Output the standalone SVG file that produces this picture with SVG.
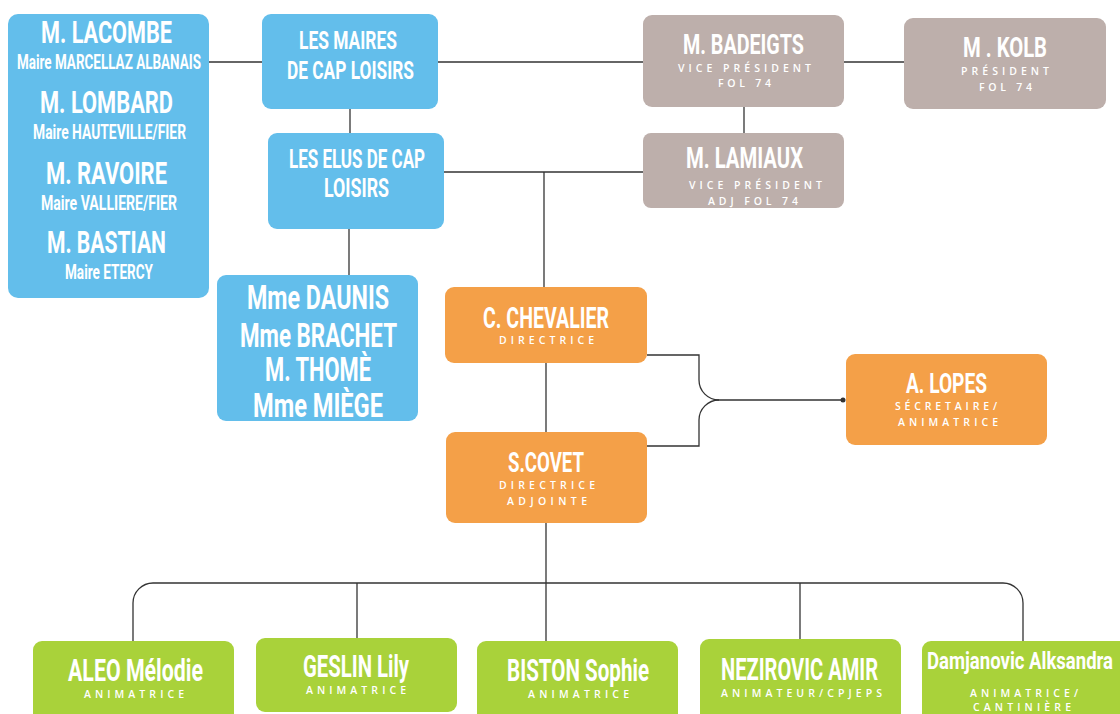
<svg xmlns="http://www.w3.org/2000/svg" width="1120" height="714" viewBox="0 0 1120 714">
<style>
.bl{fill:#63BEEB}
.gr{fill:#BDAFAB}
.or{fill:#F4A048}
.gn{fill:#A9D23A}
.t{font-family:Roboto,"Liberation Sans",sans-serif;font-weight:700;fill:#fff}
.s{font-family:"Open Sans","Liberation Sans",sans-serif;font-weight:600;fill:#fff;font-size:10.5px}
.c{fill:none;stroke:#333;stroke-width:1.3}
</style>
<rect width="1120" height="714" fill="#fff"/>
<g id="connectors">
<path class="c" d="M209,62H262"/>
<path class="c" d="M438,62H643"/>
<path class="c" d="M844,62H904"/>
<path class="c" d="M350,109V133"/>
<path class="c" d="M349,229V275"/>
<path class="c" d="M444,172H643"/>
<path class="c" d="M744,107V133"/>
<path class="c" d="M544,172V287"/>
<path class="c" d="M546,363V432"/>
<path class="c" d="M647,355H699V380A20,20 0 0 0 719,400H843"/>
<path class="c" d="M647,446H699V420A20,20 0 0 1 719,400"/>
<circle cx="843" cy="400" r="2.5" fill="#333"/>
<path class="c" d="M546,523V641"/>
<path class="c" d="M133,641V603A20,20 0 0 1 153,583H1003A20,20 0 0 1 1023,603V641"/>
<path class="c" d="M357,583V638"/>
<path class="c" d="M800,583V639"/>
</g>
<g id="maires-list">
<rect class="bl" x="8" y="14" width="201" height="284" rx="10"/>
<text class="t" x="41" y="43" font-size="32" textLength="131" lengthAdjust="spacingAndGlyphs">M. LACOMBE</text>
<text class="t" x="17" y="68.5" font-size="20.5" textLength="184" lengthAdjust="spacingAndGlyphs">Maire MARCELLAZ ALBANAIS</text>
<text class="t" x="40" y="113" font-size="31" textLength="133" lengthAdjust="spacingAndGlyphs">M. LOMBARD</text>
<text class="t" x="33" y="139" font-size="20.5" textLength="153" lengthAdjust="spacingAndGlyphs">Maire HAUTEVILLE/FIER</text>
<text class="t" x="46" y="183.5" font-size="31" textLength="121" lengthAdjust="spacingAndGlyphs">M. RAVOIRE</text>
<text class="t" x="41" y="209.5" font-size="20.5" textLength="136" lengthAdjust="spacingAndGlyphs">Maire VALLIERE/FIER</text>
<text class="t" x="47" y="253" font-size="31" textLength="119" lengthAdjust="spacingAndGlyphs">M. BASTIAN</text>
<text class="t" x="65" y="279" font-size="20.5" textLength="88" lengthAdjust="spacingAndGlyphs">Maire ETERCY</text>
</g>
<g id="les-maires">
<rect class="bl" x="262" y="14" width="176" height="95" rx="9"/>
<text class="t" x="299" y="49" font-size="26.5" textLength="98" lengthAdjust="spacingAndGlyphs">LES MAIRES</text>
<text class="t" x="287" y="79" font-size="26.5" textLength="127" lengthAdjust="spacingAndGlyphs">DE CAP LOISIRS</text>
</g>
<g id="les-elus">
<rect class="bl" x="268" y="133" width="176" height="96" rx="9"/>
<text class="t" x="289" y="168" font-size="25.5" textLength="136" lengthAdjust="spacingAndGlyphs">LES ELUS DE CAP</text>
<text class="t" x="324" y="197" font-size="25.5" textLength="65" lengthAdjust="spacingAndGlyphs">LOISIRS</text>
</g>
<g id="elus-list">
<rect class="bl" x="217" y="275" width="201" height="146" rx="9"/>
<text class="t" x="247" y="309" font-size="33" textLength="142" lengthAdjust="spacingAndGlyphs">Mme DAUNIS</text>
<text class="t" x="240" y="347" font-size="33" textLength="157" lengthAdjust="spacingAndGlyphs">Mme BRACHET</text>
<text class="t" x="265" y="381" font-size="33" textLength="106" lengthAdjust="spacingAndGlyphs">M. THOMÈ</text>
<text class="t" x="253" y="417" font-size="33" textLength="130" lengthAdjust="spacingAndGlyphs">Mme MIÈGE</text>
</g>
<g id="badeigts">
<rect class="gr" x="643" y="15" width="201" height="92" rx="9"/>
<text class="t" x="683" y="54" font-size="27" textLength="121" lengthAdjust="spacingAndGlyphs">M. BADEIGTS</text>
<text class="s" x="678" y="72" textLength="133" lengthAdjust="spacing">VICE PRÉSIDENT</text>
<text class="s" x="718" y="87" textLength="53" lengthAdjust="spacing">FOL 74</text>
</g>
<g id="kolb">
<rect class="gr" x="904" y="18" width="202" height="91" rx="9"/>
<text class="t" x="963" y="57" font-size="28" textLength="84" lengthAdjust="spacingAndGlyphs">M . KOLB</text>
<text class="s" x="961" y="75" textLength="88" lengthAdjust="spacing">PRÉSIDENT</text>
<text class="s" x="979" y="91" textLength="53" lengthAdjust="spacing">FOL 74</text>
</g>
<g id="lamiaux">
<rect class="gr" x="643" y="133" width="201" height="75" rx="8"/>
<text class="t" x="686" y="168" font-size="29.5" textLength="117" lengthAdjust="spacingAndGlyphs">M. LAMIAUX</text>
<text class="s" x="689" y="189" textLength="133" lengthAdjust="spacing">VICE PRÉSIDENT</text>
<text class="s" x="708" y="205" textLength="90" lengthAdjust="spacing">ADJ FOL 74</text>
</g>
<g id="chevalier">
<rect class="or" x="445" y="287" width="202" height="76" rx="9"/>
<text class="t" x="483" y="328" font-size="29.5" textLength="126" lengthAdjust="spacingAndGlyphs">C. CHEVALIER</text>
<text class="s" x="499" y="344" textLength="95" lengthAdjust="spacing">DIRECTRICE</text>
</g>
<g id="covet">
<rect class="or" x="446" y="432" width="201" height="91" rx="9"/>
<text class="t" x="508" y="472" font-size="28" textLength="76" lengthAdjust="spacingAndGlyphs">S.COVET</text>
<text class="s" x="499" y="489" textLength="96" lengthAdjust="spacing">DIRECTRICE</text>
<text class="s" x="507" y="505" textLength="80" lengthAdjust="spacing">ADJOINTE</text>
</g>
<g id="lopes">
<rect class="or" x="846" y="354" width="201" height="91" rx="9"/>
<text class="t" x="906" y="393" font-size="28" textLength="81" lengthAdjust="spacingAndGlyphs">A. LOPES</text>
<text class="s" x="895" y="410" textLength="102" lengthAdjust="spacing">SÉCRETAIRE/</text>
<text class="s" x="898" y="426" textLength="100" lengthAdjust="spacing">ANIMATRICE</text>
</g>
<g id="aleo">
<rect class="gn" x="33" y="641" width="201" height="90" rx="9"/>
<text class="t" x="68" y="681" font-size="31" textLength="135" lengthAdjust="spacingAndGlyphs">ALEO Mélodie</text>
<text class="s" x="84" y="698" textLength="100" lengthAdjust="spacing">ANIMATRICE</text>
</g>
<g id="geslin">
<rect class="gn" x="256" y="638" width="201" height="74" rx="9"/>
<text class="t" x="303" y="677" font-size="31" textLength="106" lengthAdjust="spacingAndGlyphs">GESLIN Lily</text>
<text class="s" x="306" y="694" textLength="100" lengthAdjust="spacing">ANIMATRICE</text>
</g>
<g id="biston">
<rect class="gn" x="477" y="641" width="201" height="90" rx="9"/>
<text class="t" x="507" y="681" font-size="31" textLength="142" lengthAdjust="spacingAndGlyphs">BISTON Sophie</text>
<text class="s" x="528" y="698" textLength="101" lengthAdjust="spacing">ANIMATRICE</text>
</g>
<g id="nezirovic">
<rect class="gn" x="700" y="639" width="201" height="92" rx="9"/>
<text class="t" x="721" y="680" font-size="31" textLength="157" lengthAdjust="spacingAndGlyphs">NEZIROVIC AMIR</text>
<text class="s" x="721" y="697" textLength="161" lengthAdjust="spacing">ANIMATEUR/CPJEPS</text>
</g>
<g id="damjanovic">
<rect class="gn" x="922" y="641" width="210" height="90" rx="9"/>
<text class="t" x="927" y="669" font-size="24" textLength="186" lengthAdjust="spacingAndGlyphs">Damjanovic Alksandra</text>
<text class="s" x="970" y="697" textLength="108" lengthAdjust="spacing">ANIMATRICE/</text>
<text class="s" x="973" y="711" textLength="98" lengthAdjust="spacing">CANTINIÈRE</text>
</g>
</svg>
